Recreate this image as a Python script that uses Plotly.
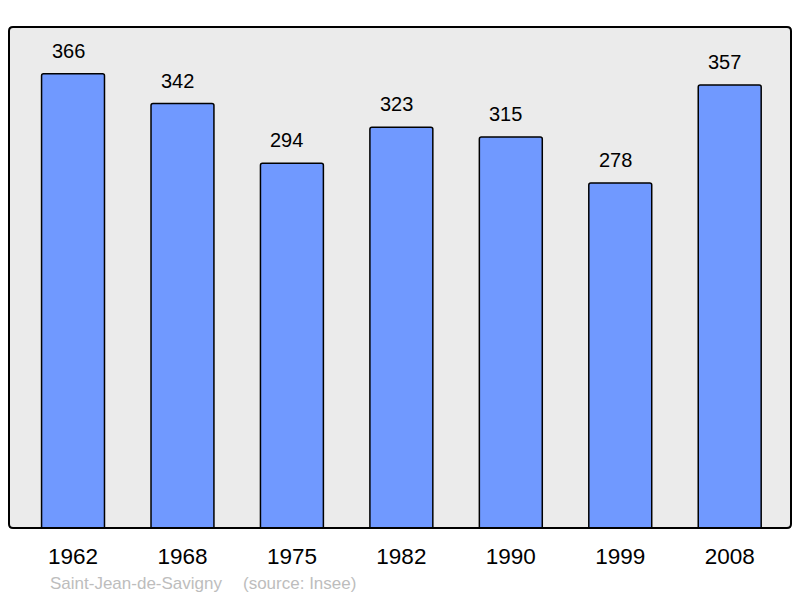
import plotly.graph_objects as go

years = ["1962", "1968", "1975", "1982", "1990", "1999", "2008"]
population = [366, 342, 294, 323, 315, 278, 357]
commune = "Saint-Jean-de-Savigny"
source = "(source: Insee)"

FONT = "Liberation Sans, Arial, sans-serif"

idx = list(range(len(years)))

fig = go.Figure()
fig.add_trace(go.Bar(
    x=idx, y=population,
    width=0.575,
    marker=dict(color="#7099ff", line=dict(color="#000000", width=1.5), cornerradius=2),
    hoverinfo="skip",
))

for i, v in zip(idx, population):
    fig.add_annotation(x=i, y=v, text=str(v), showarrow=False,
                       yanchor="bottom", yshift=10, xshift=-5,
                       font=dict(family=FONT, size=20, color="#000000"))

fig.add_annotation(xref="paper", yref="paper", x=(48 - 9) / 782, y=-(583 - 528) / 501,
                   xanchor="left", yanchor="middle", text=commune, showarrow=False,
                   font=dict(family=FONT, size=17, color="#bdbdbd"))
fig.add_annotation(xref="paper", yref="paper", x=(241 - 9) / 782, y=-(583 - 528) / 501,
                   xanchor="left", yanchor="middle", text=source, showarrow=False,
                   font=dict(family=FONT, size=17, color="#bdbdbd"))

# rounded frame around the plot area
rx, ry = 4 / 782, 4 / 501
frame = (f"M {rx},0 L {1-rx},0 Q 1,0 1,{ry} L 1,{1-ry} Q 1,1 {1-rx},1 "
         f"L {rx},1 Q 0,1 0,{1-ry} L 0,{ry} Q 0,0 {rx},0 Z")
fig.add_shape(type="path", xref="paper", yref="paper", path=frame,
              line=dict(color="#000000", width=2), layer="above")

fig.update_layout(
    width=800, height=598,
    margin=dict(l=9, r=9, t=27, b=70),
    paper_bgcolor="#ffffff",
    plot_bgcolor="#ebebeb",
    showlegend=False,
    xaxis=dict(range=[-0.585, 6.56], showgrid=False, zeroline=False,
               showline=False, ticks="", ticklabelstandoff=12,
               tickmode="array", tickvals=idx, ticktext=years,
               tickfont=dict(family=FONT, size=22.5, color="#000000")),
    yaxis=dict(range=[0, 403.7], showgrid=False, zeroline=False, showline=False,
               showticklabels=False, ticks=""),
)

fig.write_html("out.html", config={"displayModeBar": False},
               post_script="document.body.style.margin='0';")
